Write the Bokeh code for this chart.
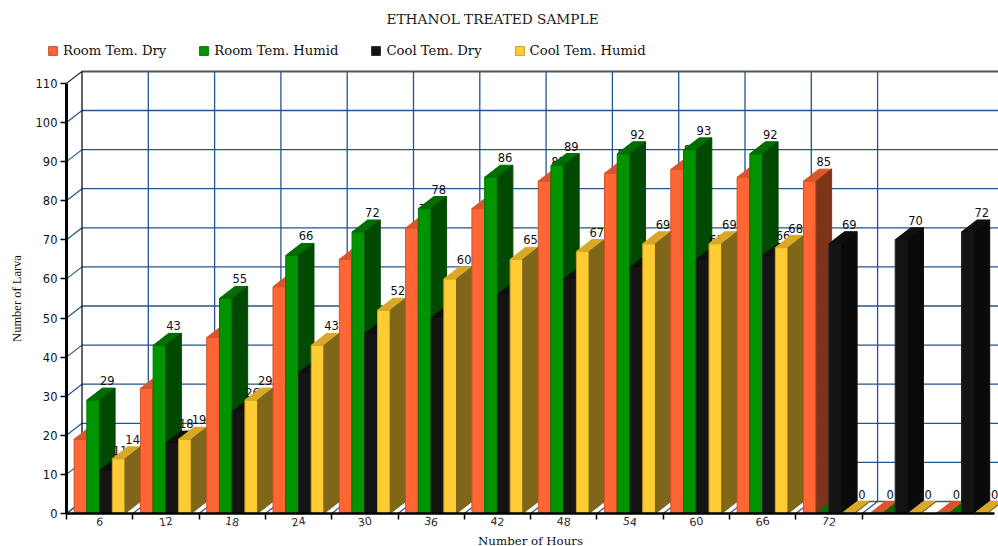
from bokeh.embed import file_html
from bokeh.resources import INLINE
from bokeh.core.properties import value
from bokeh.models import FixedTicker, Label, Legend, LegendItem, LinearAxis, Range1d
from bokeh.plotting import figure

# Larvae counted per sampling hour for each storage condition
hours = ["6", "12", "18", "24", "30", "36", "42", "48", "54", "60", "66", "72", "", ""]
room_dry = [19, 32, 45, 58, 65, 73, 78, 85, 87, 88, 86, 85, 0, 0]
room_humid = [29, 43, 55, 66, 72, 78, 86, 89, 92, 93, 92, 0, 0, 0]
cool_dry = [11, 18, 26, 36, 46, 50, 56, 60, 63, 65, 66, 69, 70, 72]
cool_humid = [14, 19, 29, 43, 52, 60, 65, 67, 69, 69, 68, 0, 0, 0]

series_names = ["Room Tem. Dry", "Room Tem. Humid", "Cool Tem. Dry", "Cool Tem. Humid"]
series_values = [room_dry, room_humid, cool_dry, cool_humid]
front_colors = ["#ff6633", "#009400", "#141414", "#ffcc33"]
top_colors = ["#d9552b", "#006e00", "#0f0f0f", "#d9a828"]
side_colors = ["#7f3319", "#004a00", "#0a0a0a", "#7f6619"]
edge_colors = ["#cc5229", "#007a00", "#262626", "#cc9f29"]

hour_tilts = [-8, 9, -9, 9, 9, -8, -5, -5, -8, 9, 9, -8]

# Pixel scale of the plot: one category and ten larvae on the axes
CATEGORY_PX = 66.3
UNIT_PX = 3.91
ORIGIN_X, ORIGIN_Y = 66, 513
WIDTH, HEIGHT, FRAME_TOP = 998, 546, 30

# Extrusion of the 3D look, in data units
DEPTH_X = 15.5 / CATEGORY_PX
DEPTH_Y = 12 / UNIT_PX
LABEL_SHIFT = 14 / CATEGORY_PX
BAR_WIDTH = 0.192
BAR_START = 0.115

GRID_BLUE = "#24558e"
NUMBER_FONT = "DejaVu Sans"
TEXT_FONT = "DejaVu Serif"

# The frame fills the page so the legend and hour names can sit outside the axes
p = figure(
    width=WIDTH,
    height=HEIGHT,
    output_backend="svg",
    toolbar_location=None,
    x_range=Range1d(-ORIGIN_X / CATEGORY_PX, (WIDTH - ORIGIN_X) / CATEGORY_PX),
    y_range=Range1d(-(HEIGHT - ORIGIN_Y) / UNIT_PX, (ORIGIN_Y - FRAME_TOP) / UNIT_PX),
    x_axis_type=None,
    y_axis_type=None,
    min_border_left=0,
    min_border_right=0,
    min_border_top=FRAME_TOP,
    min_border_bottom=0,
    outline_line_color=None,
    background_fill_color="white",
    border_fill_color="white",
)
p.grid.visible = False

# Chart title
p.title.text = "ETHANOL TREATED SAMPLE"
p.title.text_font = TEXT_FONT
p.title.text_font_size = "13.7px"
p.title.text_font_style = "normal"
p.title.text_color = "#1a1a1a"
p.title.align = "left"
p.title.offset = 386
p.title.standoff = 8

# Back wall, left wall and floor
for level in range(0, 111, 10):
    color = GRID_BLUE
    width = 1.3
    if level == 0:
        color, width = "#555555", 1.3
    if level == 110:
        color, width = "#555555", 2
    p.line([DEPTH_X, p.x_range.end + 1], [level + DEPTH_Y, level + DEPTH_Y], line_color=color, line_width=width)
    p.line([0, DEPTH_X], [level, level + DEPTH_Y], line_color="#111111" if level == 110 else GRID_BLUE, line_width=1.2)

for k in range(1, 13):
    p.line([k + DEPTH_X, k + DEPTH_X], [DEPTH_Y, 110 + DEPTH_Y], line_color=GRID_BLUE, line_width=1.3)
    p.line([k, k + DEPTH_X], [0, DEPTH_Y], line_color=GRID_BLUE, line_width=1.2)

p.line([DEPTH_X, DEPTH_X], [DEPTH_Y, 110 + DEPTH_Y], line_color="#111111", line_width=1.3)
p.line([0, DEPTH_X], [0, DEPTH_Y], line_color=GRID_BLUE, line_width=1.2)

# Bars and their value labels are drawn together so later bars cover earlier labels
legend_renderers = [None] * len(series_names)
for c in range(len(hours)):
    for s, values in enumerate(series_values):
        v = values[c]
        x0 = c + BAR_START + s * BAR_WIDTH
        x1 = x0 + BAR_WIDTH
        xs = [
            [x0, x1, x1, x0],
            [x0, x1, x1 + DEPTH_X, x0 + DEPTH_X],
            [x1, x1 + DEPTH_X, x1 + DEPTH_X, x1],
        ]
        ys = [
            [0, 0, v, v],
            [v, v, v + DEPTH_Y, v + DEPTH_Y],
            [0, DEPTH_Y, v + DEPTH_Y, v],
        ]
        faces = p.patches(
            xs,
            ys,
            fill_color=[front_colors[s], top_colors[s], side_colors[s]],
            line_color=[edge_colors[s], top_colors[s], side_colors[s]],
            line_width=1,
        )
        if legend_renderers[s] is None:
            legend_renderers[s] = faces
        p.text(
            [(x0 + x1) / 2 + LABEL_SHIFT],
            [v + DEPTH_Y],
            text=[str(v)],
            text_font=value(NUMBER_FONT),
            text_font_size="11.5px",
            text_color="#111111",
            text_align="center",
            text_baseline="bottom",
            y_offset=-3,
        )

# Value axis with its thick front rule, pinned at the first category edge
y_axis = LinearAxis(
    fixed_location=0,
    ticker=FixedTicker(ticks=list(range(0, 111, 10))),
    bounds=(0, 110),
    axis_label="Number of Larva",
    axis_label_text_font="Liberation Serif",
    axis_label_text_font_size="12.5px",
    axis_label_text_font_style="normal",
    axis_label_text_color="#111111",
    axis_label_standoff=9,
    major_label_text_font=NUMBER_FONT,
    major_label_text_font_size="11.5px",
    major_label_text_color="#111111",
    major_label_standoff=3,
    axis_line_color="#000000",
    axis_line_width=3,
    major_tick_line_color="#000000",
    major_tick_line_width=1.5,
    major_tick_in=0,
    major_tick_out=6,
    minor_tick_line_color=None,
)
p.add_layout(y_axis, "left")

# Hour axis: ticks on category boundaries, names placed at the category centres
x_axis = LinearAxis(
    fixed_location=0,
    ticker=FixedTicker(ticks=list(range(0, 13))),
    bounds=(0, 14),
    axis_label="Number of Hours",
    axis_label_text_font=TEXT_FONT,
    axis_label_text_font_size="11.8px",
    axis_label_text_font_style="normal",
    axis_label_text_color="#111111",
    axis_label_standoff=14,
    major_label_text_font_size="9px",
    major_label_text_color=None,
    major_label_standoff=2,
    axis_line_color="#000000",
    axis_line_width=2.5,
    major_tick_line_color="#000000",
    major_tick_line_width=1.5,
    major_tick_in=0,
    major_tick_out=6,
    minor_tick_line_color=None,
)
p.add_layout(x_axis, "below")

for c, name in enumerate(hours):
    if name:
        p.add_layout(
            Label(
                x=c + 0.5,
                y=0,
                y_offset=-8,
                text=name,
                angle=hour_tilts[c],
                angle_units="deg",
                text_font=NUMBER_FONT,
                text_font_size="11px",
                text_color="#2a2a2a",
                text_align="center",
                text_baseline="middle",
            )
        )

legend = Legend(
    items=[LegendItem(label=n, renderers=[r], index=0) for n, r in zip(series_names, legend_renderers)],
    orientation="horizontal",
    location=(47, 488),
    spacing=32,
    padding=0,
    margin=0,
    glyph_width=11,
    glyph_height=11,
    label_standoff=5,
    label_text_font=TEXT_FONT,
    label_text_font_size="13.2px",
    label_text_color="#111111",
    label_height=11,
    background_fill_alpha=0,
    border_line_color=None,
)
p.add_layout(legend, "center")

open("out.html", "w").write(file_html(p, INLINE))
